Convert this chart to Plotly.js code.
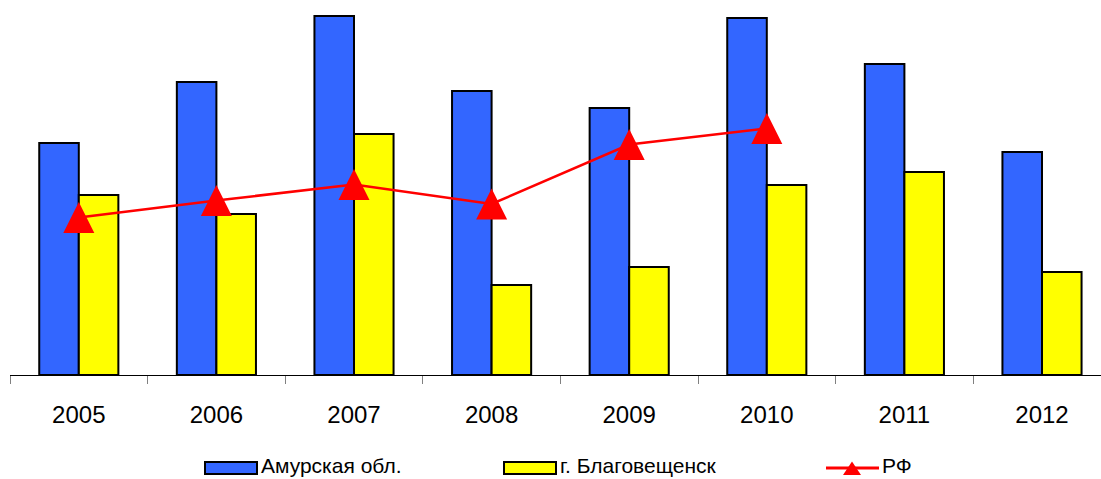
<!DOCTYPE html>
<html>
<head>
<meta charset="utf-8">
<script src="https://cdn.plot.ly/plotly-3.0.1.min.js"></script>
<style>html,body{margin:0;padding:0;background:#fff;}#chart{width:1101px;height:479px;}</style>
</head>
<body>
<div id="chart"></div>
<script>
// ---- data ----
var years = ['2005', '2006', '2007', '2008', '2009', '2010', '2011', '2012'];
var amurValues = [232, 293, 359, 284, 267, 357, 311, 223];
var blagValues = [180, 161, 241, 90, 108, 190, 203, 103];
var rfYears = ['2005', '2006', '2007', '2008', '2009', '2010'];
var rfValues = [157.5, 174.5, 190.5, 171, 230.5, 246.5];
var seriesNames = ['Амурская обл.', 'г. Благовещенск', 'РФ'];
var seriesColors = ['#3366FF', '#FFFF00', '#FF0000'];

// ---- geometry helpers (layout only) ----
var W = 1101, H = 479, ML = 10, MB = 104;
var plotW = W - ML, plotH = H - MB;
var catPx = 137.6;
var xMax = -0.5 + plotW / catPx;
function px(x) { return (x - ML) / plotW; }
function py(y) { return (plotH - y) / plotH; }
var font = 'Liberation Sans, Arial, sans-serif';

var boundaries = years.map(function (d, i) { return i - 0.5; });

var traces = [
  {
    type: 'bar', x: years, y: amurValues, name: seriesNames[0], showlegend: false,
    marker: { color: seriesColors[0], line: { color: '#000', width: 2 } }, hoverinfo: 'x+y'
  },
  {
    type: 'bar', x: years, y: blagValues, name: seriesNames[1], showlegend: false,
    marker: { color: seriesColors[1], line: { color: '#000', width: 2 } }, hoverinfo: 'x+y'
  },
  {
    type: 'scatter', mode: 'lines+markers', x: rfYears, y: rfValues, name: seriesNames[2], showlegend: false,
    line: { color: seriesColors[2], width: 2.5 },
    marker: { symbol: 'arrow-down', angle: 180, size: 31, standoff: 15.5, color: seriesColors[2] }
  }
];

// custom legend keys
var legY = 468;
var shapes = [
  { type: 'rect', xref: 'paper', yref: 'paper', x0: px(205), x1: px(257), y0: py(474), y1: py(462),
    fillcolor: seriesColors[0], line: { color: '#000', width: 2 } },
  { type: 'rect', xref: 'paper', yref: 'paper', x0: px(504), x1: px(556), y0: py(474), y1: py(462),
    fillcolor: seriesColors[1], line: { color: '#000', width: 2 } },
  { type: 'line', xref: 'paper', yref: 'paper', x0: px(826), x1: px(879), y0: py(legY), y1: py(legY),
    line: { color: seriesColors[2], width: 3 } },
  { type: 'path', xref: 'paper', yref: 'paper',
    path: 'M' + px(852) + ',' + py(461.5) + ' L' + px(843) + ',' + py(475) + ' L' + px(861) + ',' + py(475) + ' Z',
    fillcolor: seriesColors[2], line: { color: seriesColors[2], width: 0 } }
];
var legTextX = [259, 558, 880];
var annotations = seriesNames.map(function (n, i) {
  return { text: n, xref: 'paper', yref: 'paper', x: px(legTextX[i]), y: py(465), xanchor: 'left', yanchor: 'middle',
    showarrow: false, font: { family: font, size: 21, color: '#000' } };
});

var layout = {
  width: W, height: H,
  margin: { l: ML, r: 0, t: 0, b: MB, pad: 0 },
  paper_bgcolor: '#fff', plot_bgcolor: '#fff',
  barmode: 'group', bargap: 0.425, bargroupgap: 0,
  showlegend: false,
  font: { family: font, color: '#000' },
  xaxis: {
    type: 'category', range: [-0.5, xMax], tickson: 'boundaries', ticks: 'outside', ticklen: 8,
    tickcolor: '#808080', tickwidth: 1, showline: true, linecolor: '#000', linewidth: 1,
    ticklabelstandoff: 18,
    showgrid: false, zeroline: false, tickfont: { family: font, size: 24, color: '#000' }, fixedrange: true
  },
  xaxis2: {
    overlaying: 'x', anchor: 'y', type: 'linear', range: [-0.5, xMax], tickmode: 'array', tickvals: boundaries,
    ticks: 'inside', ticklen: 7, tickcolor: '#808080', tickwidth: 1, showticklabels: false,
    showline: false, showgrid: false, zeroline: false, side: 'bottom', fixedrange: true
  },
  yaxis: { range: [0, plotH], visible: false, showgrid: false, zeroline: false, fixedrange: true },
  shapes: shapes,
  annotations: annotations
};

Plotly.newPlot('chart', traces, layout, { displayModeBar: false, staticPlot: true });
</script>
</body>
</html>
